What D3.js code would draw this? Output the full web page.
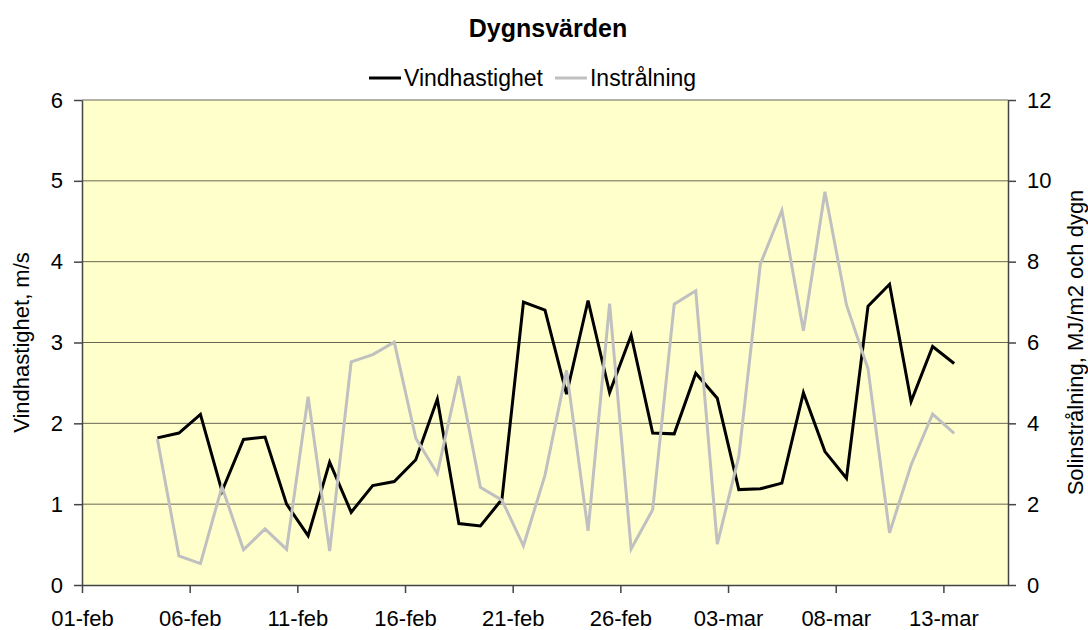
<!DOCTYPE html>
<html>
<head>
<meta charset="utf-8">
<script src="https://cdn.jsdelivr.net/npm/d3@7"></script>
<style>
  body { margin: 0; background: #fff; }
  svg text { font-family: "Liberation Sans", Arial, sans-serif; }
</style>
</head>
<body>
<svg id="chart" width="1088" height="630"></svg>
<script>
// daily values, 04-feb .. 13-mar (plotted at noon)
var dayLabels = ["04-feb","05-feb","06-feb","07-feb","08-feb","09-feb","10-feb","11-feb","12-feb","13-feb",
  "14-feb","15-feb","16-feb","17-feb","18-feb","19-feb","20-feb","21-feb","22-feb","23-feb",
  "24-feb","25-feb","26-feb","27-feb","28-feb","01-mar","02-mar","03-mar","04-mar","05-mar",
  "06-mar","07-mar","08-mar","09-mar","10-mar","11-mar","12-mar","13-mar"];

var vind = [1.82,1.88,2.11,1.16,1.80,1.83,1.00,0.61,1.52,0.90,
  1.23,1.28,1.55,2.30,0.76,0.73,1.06,3.50,3.40,2.36,
  3.52,2.38,3.09,1.88,1.87,2.62,2.31,1.18,1.19,1.26,
  2.38,1.65,1.32,3.45,3.72,2.27,2.95,2.74];

var instr = [3.61,0.72,0.53,2.43,0.87,1.39,0.88,4.66,0.84,5.52,
  5.70,6.01,3.63,2.76,5.17,2.42,2.10,0.97,2.72,5.31,
  1.34,6.96,0.89,1.86,6.95,7.28,1.01,3.18,7.94,9.27,
  6.29,9.73,6.93,5.35,1.29,2.97,4.23,3.75];

var xTickLabels = ["01-feb","06-feb","11-feb","16-feb","21-feb","26-feb","03-mar","08-mar","13-mar"];
var leftTicks = [0,1,2,3,4,5,6];
var rightTicks = [0,2,4,6,8,10,12];

var months = {jan:0,feb:1,mar:2};
function parseDay(s, hour) {
    var p = s.split("-");
    return new Date(2007, months[p[1]], +p[0], hour);
}

// plot area edges
var pL = 82, pR = 1008, pT = 100, pB = 585;

var svg = d3.select("#chart");

var x = d3.scaleTime()
    .domain([parseDay("01-feb", 0), parseDay("16-mar", 0)])
    .range([pL, pR]);
var yL = d3.scaleLinear().domain([0, 6]).range([pB, pT]);
var yR = d3.scaleLinear().domain([0, 12]).range([pB, pT]);

svg.append("rect")
    .attr("x", pL).attr("y", pT)
    .attr("width", pR - pL).attr("height", pB - pT)
    .attr("fill", "#ffffcc");

// gridlines
svg.append("g").selectAll("line")
    .data(leftTicks.slice(1))
    .enter().append("line")
    .attr("x1", pL).attr("x2", pR)
    .attr("y1", function(d){ return yL(d); })
    .attr("y2", function(d){ return yL(d); })
    .attr("stroke", "#000")
    .attr("stroke-opacity", 0.6)
    .attr("stroke-width", 1);

var fmt = function(d) { return xTickLabels[Math.round((d - x.domain()[0]) / 864e5 / 5)]; };

var xAxis = svg.append("g")
    .attr("transform", "translate(0," + pB + ")")
    .call(d3.axisBottom(x)
        .tickValues(xTickLabels.map(function(s){ return parseDay(s, 0); }))
        .tickFormat(fmt)
        .tickSize(8).tickSizeOuter(0).tickPadding(17));

var lAxis = svg.append("g")
    .attr("transform", "translate(" + pL + ",0)")
    .call(d3.axisLeft(yL).tickValues(leftTicks).tickFormat(d3.format("d"))
        .tickSize(8).tickSizeOuter(0).tickPadding(11));

var rAxis = svg.append("g")
    .attr("transform", "translate(" + pR + ",0)")
    .call(d3.axisRight(yR).tickValues(rightTicks).tickFormat(d3.format("d"))
        .tickSize(8).tickSizeOuter(0).tickPadding(11));

[xAxis, lAxis, rAxis].forEach(function(a) {
    a.selectAll("path").attr("stroke", "#444").attr("stroke-width", 1.5);
    a.selectAll("line").attr("stroke", "#444").attr("stroke-width", 1.5);
    a.selectAll("text").attr("font-size", "22px").attr("fill", "#000")
        .style("font-family", "'Liberation Sans', Arial, sans-serif");
});

// lines
var lineL = d3.line()
    .x(function(d, i){ return x(parseDay(dayLabels[i], 12)); })
    .y(function(d){ return yL(d); });
var lineR = d3.line()
    .x(function(d, i){ return x(parseDay(dayLabels[i], 12)); })
    .y(function(d){ return yR(d); });

svg.append("path").datum(vind)
    .attr("d", lineL)
    .attr("fill", "none").attr("stroke", "#000").attr("stroke-width", 3);

svg.append("path").datum(instr)
    .attr("d", lineR)
    .attr("fill", "none").attr("stroke", "#c0c0c0").attr("stroke-width", 3);

// title
svg.append("text")
    .attr("x", 548).attr("y", 37)
    .attr("text-anchor", "middle")
    .attr("font-size", "25px").attr("font-weight", "bold")
    .text("Dygnsvärden");

// axis titles
svg.append("text")
    .attr("transform", "translate(29," + ((pT + pB) / 2) + ") rotate(-90)")
    .attr("text-anchor", "middle")
    .attr("font-size", "22px")
    .text("Vindhastighet, m/s");

svg.append("text")
    .attr("transform", "translate(1083," + ((pT + pB) / 2) + ") rotate(-90)")
    .attr("text-anchor", "middle")
    .attr("font-size", "22px")
    .text("Solinstrålning, MJ/m2 och dygn");

// legend
var legend = [{name: "Vindhastighet", color: "#000"}, {name: "Instrålning", color: "#c0c0c0"}];
var lg = svg.append("g").attr("transform", "translate(369,78)");
var lx = 0;
legend.forEach(function(d) {
    lg.append("line")
        .attr("x1", lx).attr("x2", lx + 32)
        .attr("y1", 0).attr("y2", 0)
        .attr("stroke", d.color).attr("stroke-width", 3);
    var t = lg.append("text")
        .attr("x", lx + 35).attr("y", 8)
        .attr("font-size", "23px")
        .text(d.name);
    lx += 35 + t.node().getComputedTextLength() + 12;
});
</script>
</body>
</html>
